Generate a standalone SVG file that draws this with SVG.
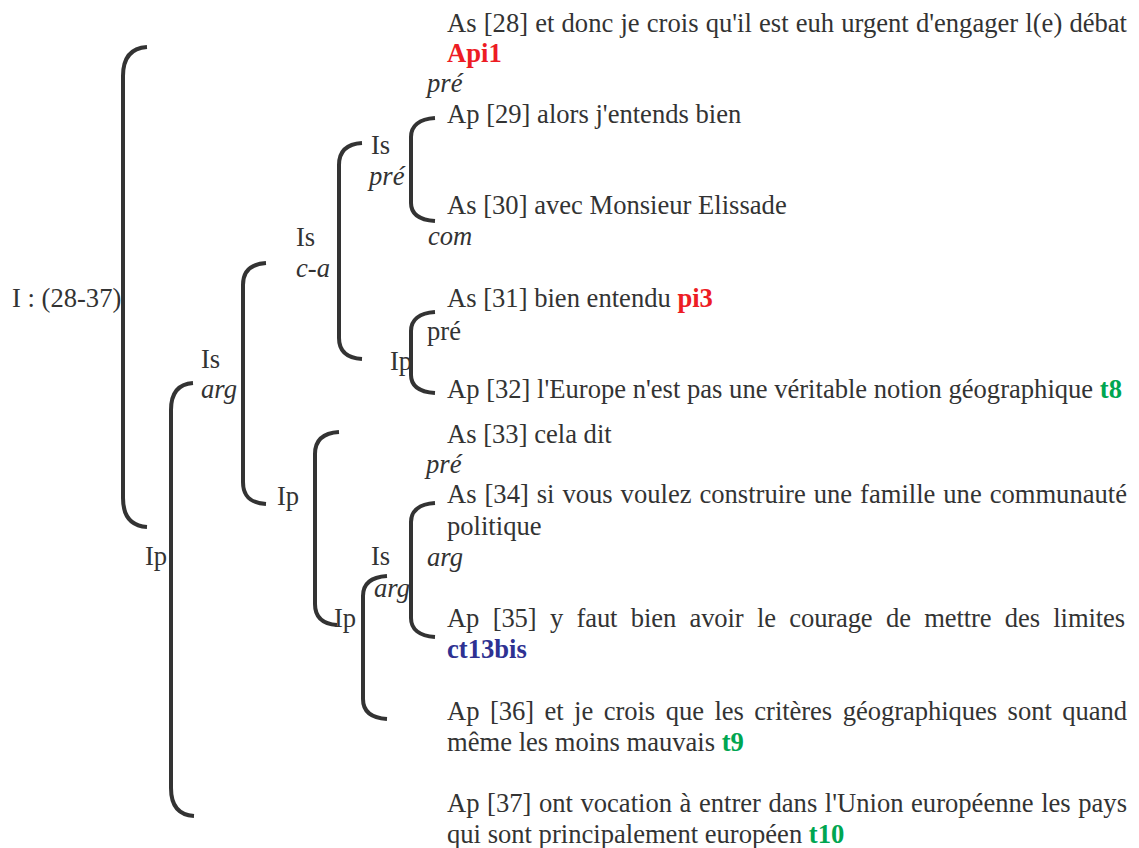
<svg xmlns="http://www.w3.org/2000/svg" width="1139" height="848" viewBox="0 0 1139 848">
<style>
text{font-family:"Liberation Serif","Times New Roman",serif;font-size:26.6px;fill:#333}
.i{font-style:italic}
.b{font-weight:bold}
.red{fill:#ed1c24}
.grn{fill:#00a651}
.blu{fill:#2e3192}
.br{fill:none;stroke:#333;stroke-width:4;stroke-linecap:butt}
</style>
<rect width="1139" height="848" fill="#fff"/>
<g id="connectors">
<path class="br" d="M147,47 C131,48 123,58 123,76 L123,498 C123,516 131,526 147,527"/>
<path class="br" d="M193,383 C178,384 171,394 171,410 L171,788 C171,805 178,815 194,816"/>
<path class="br" d="M266,263 C250,264 243,272 243,285 L243,482 C243,496 250,503 266,504"/>
<path class="br" d="M362,143 C346,144 339,152 339,165 L339,338 C339,351 346,358 362,359"/>
<path class="br" d="M435,118 C419,119 411,126 411,137 L411,203 C411,214 419,220 435,221"/>
<path class="br" d="M435,312 C419,313 411,320 411,331 L411,375 C411,386 419,392 435,393"/>
<path class="br" d="M339,432 C322,433 315,441 315,454 L315,604 C315,617 322,624 337,625"/>
<path class="br" d="M435,503 C419,504 411,511 411,522 L411,618 C411,629 419,636 435,637"/>
<path class="br" d="M387,576 C371,577 363,584 363,596 L363,699 C363,711 371,718 387,719"/>
</g>
<g id="n-root"><text x="12" y="307">I : (28-37)</text></g>
<g id="n-ip1"><text x="145" y="565">Ip</text></g>
<g id="n-is-arg"><text x="201" y="368">Is</text><text class="i" x="201" y="398">arg</text></g>
<g id="n-is-ca"><text x="296" y="246">Is</text><text class="i" x="296" y="277">c-a</text></g>
<g id="n-ip2"><text x="277" y="505">Ip</text></g>
<g id="n-is-pre"><text x="371" y="154">Is</text><text class="i" x="369" y="185">pré</text></g>
<g id="n-ip3"><text x="390" y="370">Ip</text></g>
<g id="n-is-arg2"><text x="371" y="565">Is</text><text class="i" x="374" y="597">arg</text></g>
<g id="n-ip4"><text x="334" y="627">Ip</text></g>
<g id="n-28"><text x="447" y="32" word-spacing="0.5" textLength="680" lengthAdjust="spacing">As [28] et donc je crois qu'il est euh urgent d'engager l(e) débat</text><text class="b red" x="447" y="62">Api1</text></g>
<g id="r-pre1"><text class="i" x="427" y="92">pré</text></g>
<g id="n-29"><text x="447" y="123">Ap [29] alors j'entends bien</text></g>
<g id="n-30"><text x="447" y="214">As [30] avec Monsieur Elissade</text></g>
<g id="r-com"><text class="i" x="428" y="245">com</text></g>
<g id="n-31"><text x="447" y="307">As [31] bien entendu <tspan class="b red">pi3</tspan></text></g>
<g id="r-pre2"><text x="427" y="340">pré</text></g>
<g id="n-32"><text x="447" y="398">Ap [32] l'Europe n'est pas une véritable notion géographique <tspan class="b grn">t8</tspan></text></g>
<g id="n-33"><text x="447" y="443">As [33] cela dit</text></g>
<g id="r-pre3"><text class="i" x="426" y="473">pré</text></g>
<g id="n-34"><text x="447" y="503" word-spacing="1.3" textLength="680" lengthAdjust="spacing">As [34] si vous voulez construire une famille une communauté</text><text x="447" y="535">politique</text></g>
<g id="r-arg"><text class="i" x="427" y="566">arg</text></g>
<g id="n-35"><text x="447" y="627" word-spacing="6.9" textLength="678" lengthAdjust="spacing">Ap [35] y faut bien avoir le courage de mettre des limites</text><text class="b blu" x="447" y="658">ct13bis</text></g>
<g id="n-36"><text x="447" y="720" word-spacing="3.9" textLength="680" lengthAdjust="spacing">Ap [36] et je crois que les critères géographiques sont quand</text><text x="447" y="751">même les moins mauvais <tspan class="b grn">t9</tspan></text></g>
<g id="n-37"><text x="447" y="812" word-spacing="0.9" textLength="680" lengthAdjust="spacing">Ap [37] ont vocation à entrer dans l'Union européenne les pays</text><text x="447" y="843">qui sont principalement européen <tspan class="b grn">t10</tspan></text></g>
</svg>
